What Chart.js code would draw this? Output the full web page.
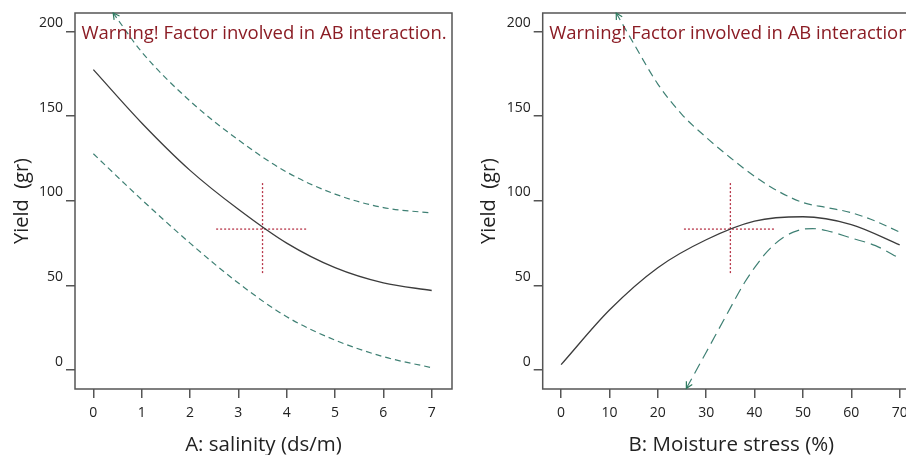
<!DOCTYPE html>
<html>
<head>
<meta charset="utf-8">
<script src="https://cdn.jsdelivr.net/npm/chart.js@4/dist/chart.umd.min.js"></script>
<style>
  html, body { margin: 0; padding: 0; background: #fff; }
  #wrap { position: relative; width: 906px; height: 455px; overflow: hidden; }
  #chartA { position: absolute; left: 0; top: 0; }
  #chartB { position: absolute; left: 460px; top: 0; }
</style>
</head>
<body>
<div id="wrap">
  <canvas id="chartA" width="460" height="455"></canvas>
  <canvas id="chartB" width="468" height="455"></canvas>
</div>
<script>
// Values
const yTickValues = [0, 50, 100, 150, 200];
const salinityTicks = [0, 1, 2, 3, 4, 5, 6, 7];
const moistureTicks = [0, 10, 20, 30, 40, 50, 60, 70];

// A: salinity panel
const salinityX = [0, 1, 2, 3, 4, 5, 6, 7];
const salinityMean = [177.5, 146, 118, 95, 75, 60.5, 51.5, 47];
const salinityUpperX = [0.41, 1, 2, 3, 4, 5, 6, 7];
const salinityUpper = [211, 188, 159, 136, 117, 104, 96, 92.8];
const salinityLowerX = [0, 1, 2, 3, 4, 5, 6, 7];
const salinityLower = [127.8, 100.7, 75, 51.4, 31.5, 17.7, 7.9, 1.4];
const salinityCrossX = [2.54, 3.5, 4.43];

// B: moisture stress panel
const moistureX = [0, 10, 20, 30, 40, 50, 60, 70];
const moistureMean = [3.2, 35.5, 60.5, 77, 88, 90.6, 86, 74];
const moistureUpperX = [11.4, 15, 20, 25, 30, 35, 40, 45, 50, 55, 60, 65, 70];
const moistureUpper = [211, 193, 169, 151, 137.5, 125.5, 114.5, 105.5, 99, 96, 93, 88, 81.5];
const moistureLowerX = [25.9, 30, 34, 38, 40, 42, 44, 46, 48, 50, 52, 55, 60, 65, 70];
const moistureLower = [-10.8, 10.5, 31.5, 52, 60.5, 68, 74, 78.5, 81.5, 83.2, 83.6, 82.3, 78, 73.5, 66];
const moistureCrossX = [25.4, 35, 44.3];

const crossY = [57.3, 83.3, 111.5];

const FONT = "'Open Sans', 'Noto Sans', sans-serif";
const MEAN_COLOR = '#3c3c3c';
const BAND_COLOR = '#3f8074';
const CROSS_COLOR = '#b8374a';
const AXIS_COLOR = '#555555';

function pts(xs, ys) {
    return xs.map((x, i) => ({ x: x, y: ys[i] }));
}

// frame around the plot area plus the warning note
const framePlugin = {
    id: 'frame',
    afterDatasetsDraw(chart) {
        const { ctx, chartArea } = chart;
        ctx.save();
        ctx.strokeStyle = AXIS_COLOR;
        ctx.lineWidth = 1.5;
        ctx.strokeRect(chartArea.left, chartArea.top, chartArea.right - chartArea.left, chartArea.bottom - chartArea.top);
        ctx.beginPath();
        ctx.rect(chartArea.left, chartArea.top, chartArea.right - chartArea.left, chartArea.bottom - chartArea.top);
        ctx.clip();
        ctx.fillStyle = '#8b1c24';
        ctx.font = '18.5px ' + FONT;
        ctx.textBaseline = 'alphabetic';
        ctx.fillText('Warning! Factor involved in AB interaction.', chartArea.left + 6.5, chartArea.top + 25.5);
        ctx.restore();
    }
};

// open arrow head at the first point of a clipped band
const arrowPlugin = {
    id: 'arrowHead',
    afterDatasetsDraw(chart) {
        const ctx = chart.ctx;
        chart.data.datasets.forEach((ds, i) => {
            if (!ds.arrowStart) return;
            const meta = chart.getDatasetMeta(i);
            const p0 = meta.data[0], p1 = meta.data[1];
            const ang = Math.atan2(p0.y - p1.y, p0.x - p1.x);
            const len = 7;
            ctx.save();
            ctx.strokeStyle = '#2d7a5e';
            ctx.lineWidth = 1.2;
            ctx.beginPath();
            ctx.moveTo(p0.x - len * Math.cos(ang - 0.5), p0.y - len * Math.sin(ang - 0.5));
            ctx.lineTo(p0.x, p0.y);
            ctx.lineTo(p0.x - len * Math.cos(ang + 0.5), p0.y - len * Math.sin(ang + 0.5));
            ctx.stroke();
            ctx.restore();
        });
    }
};

function makeChart(id, cfg) {
    const lineBase = { showLine: true, pointRadius: 0, fill: false, cubicInterpolationMode: 'monotone' };
    const datasets = [
        Object.assign({}, lineBase, { data: pts(cfg.upperX, cfg.upper), borderColor: BAND_COLOR, borderWidth: 1.2, borderDash: cfg.upperDash, arrowStart: cfg.upperArrow }),
        Object.assign({}, lineBase, { data: pts(cfg.lowerX, cfg.lower), borderColor: BAND_COLOR, borderWidth: 1.2, borderDash: cfg.lowerDash, arrowStart: cfg.lowerArrow }),
        Object.assign({}, lineBase, { data: pts(cfg.meanX, cfg.mean), borderColor: MEAN_COLOR, borderWidth: 1.3 }),
        Object.assign({}, lineBase, { data: [{ x: cfg.crossX[0], y: crossY[1] }, { x: cfg.crossX[2], y: crossY[1] }], borderColor: CROSS_COLOR, borderWidth: 1.3, borderDash: [2, 2], cubicInterpolationMode: 'default', tension: 0 }),
        Object.assign({}, lineBase, { data: [{ x: cfg.crossX[1], y: crossY[0] }, { x: cfg.crossX[1], y: crossY[2] }], borderColor: CROSS_COLOR, borderWidth: 1.3, borderDash: [2, 2], cubicInterpolationMode: 'default', tension: 0 })
    ];

    return new Chart(document.getElementById(id), {
        type: 'scatter',
        data: { datasets: datasets },
        options: {
            responsive: false,
            animation: false,
            events: [],
            layout: { padding: { top: 13, right: 8, left: 0, bottom: 0 } },
            plugins: { legend: { display: false }, tooltip: { enabled: false } },
            scales: {
                x: {
                    type: 'linear',
                    min: cfg.xMin,
                    max: cfg.xMax,
                    afterBuildTicks: s => { s.ticks = cfg.xTicks.map(v => ({ value: v })); },
                    afterFit: s => { s.height = 66; },
                    grid: { drawOnChartArea: false, drawTicks: true, tickLength: 9, color: AXIS_COLOR, lineWidth: 1.5 },
                    border: { display: false },
                    ticks: { color: '#222', font: { family: FONT, size: 14 }, padding: 7, maxRotation: 0, autoSkip: false },
                    title: { display: true, text: cfg.xTitle, color: '#222', font: { family: FONT, size: 20.5, lineHeight: 1 }, padding: { top: 0, bottom: 0 } }
                },
                y: {
                    type: 'linear',
                    min: -11.2,
                    max: 211,
                    afterBuildTicks: s => { s.ticks = yTickValues.map(v => ({ value: v })); },
                    afterFit: s => { s.width = cfg.yWidth; },
                    grid: { drawOnChartArea: false, drawTicks: true, tickLength: 9, color: AXIS_COLOR, lineWidth: 1.5 },
                    border: { display: false },
                    ticks: { color: '#222', font: { family: FONT, size: 14 }, padding: 3, labelOffset: -8.5 },
                    title: { display: true, text: 'Yield  (gr)', color: '#222', font: { family: FONT, size: 20 }, padding: { top: cfg.yTitlePad, bottom: 0 } }
                }
            }
        },
        plugins: [framePlugin, arrowPlugin]
    });
}

makeChart('chartA', {
    meanX: salinityX, mean: salinityMean,
    upperX: salinityUpperX, upper: salinityUpper, upperDash: [6, 4], upperArrow: true,
    lowerX: salinityLowerX, lower: salinityLower, lowerDash: [6, 4], lowerArrow: false,
    crossX: salinityCrossX,
    xMin: -0.38, xMax: 7.42, xTicks: salinityTicks,
    xTitle: 'A: salinity (ds/m)', yWidth: 75, yTitlePad: 10
});

makeChart('chartB', {
    meanX: moistureX, mean: moistureMean,
    upperX: moistureUpperX, upper: moistureUpper, upperDash: [8, 5], upperArrow: true,
    lowerX: moistureLowerX, lower: moistureLower, lowerDash: [11, 6], lowerArrow: true,
    crossX: moistureCrossX,
    xMin: -3.8, xMax: 74.2, xTicks: moistureTicks,
    xTitle: 'B: Moisture stress (%)', yWidth: 82.7, yTitlePad: 17
});
</script>
</body>
</html>
